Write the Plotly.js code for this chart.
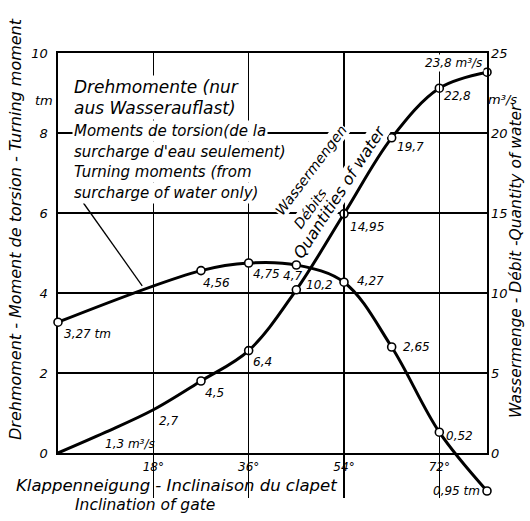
<!DOCTYPE html>
<html><head><meta charset="utf-8">
<script src="https://cdn.plot.ly/plotly-3.0.1.min.js"></script>
<style>html,body{margin:0;padding:0;background:#fff}</style>
</head><body><div id="chart" style="width:530px;height:521px"></div>
<script>
// ---- data ----
const angles = [0, 27, 36, 45, 54, 63, 72, 81];
const moments = [3.27, 4.56, 4.75, 4.7, 4.27, 2.65, 0.52, -0.95];
const momentLabels = ["3,27 tm", "4,56", "4,75", "4,7", "4,27", "2,65", "0,52", "0,95 tm"];
const flowAngles = [0, 9, 18, 27, 36, 45, 54, 63, 72, 81];
const flows = [0, 1.3, 2.7, 4.5, 6.4, 10.2, 14.95, 19.7, 22.8, 23.8];
const flowLabels = ["", "1,3 m³/s", "2,7", "4,5", "6,4", "10,2", "14,95", "19,7", "22,8", "23,8 m³/s"];
const flowMarked = [27, 36, 45, 54, 63, 72, 81];
const xTicks = [18, 36, 54, 72];
const leftTicks = [0, 2, 4, 6, 8, 10];
const rightTicks = [0, 5, 10, 15, 20, 25];

// ---- style / placement ----
const FAM = "DejaVu Sans, Liberation Sans, sans-serif";
const f = (size, extra) => Object.assign({family: FAM, size: size, color: '#000', style: 'italic'}, extra || {});
const momentLabelPos = [
  {xanchor:'left', xshift:4, yshift:-12},
  {xanchor:'left', xshift:0, yshift:-12},
  {xanchor:'left', xshift:2, yshift:-11},
  {xanchor:'center', xshift:-4, yshift:-11},
  {xanchor:'left', xshift:11, yshift:1},
  {xanchor:'left', xshift:9, yshift:0},
  {xanchor:'left', xshift:5, yshift:-4},
  {xanchor:'right', xshift:-5, yshift:0}
];
const flowLabelPos = [
  null,
  {xanchor:'left', xshift:-3, yshift:-12},
  {xanchor:'left', xshift:4, yshift:-11},
  {xanchor:'left', xshift:2, yshift:-12},
  {xanchor:'left', xshift:2, yshift:-11},
  {xanchor:'left', xshift:8, yshift:5},
  {xanchor:'left', xshift:4, yshift:-13},
  {xanchor:'left', xshift:3, yshift:-9},
  {xanchor:'left', xshift:3, yshift:-8},
  {xanchor:'right', xshift:-3, yshift:9, bgcolor:'#fff'}
];

// plot-area geometry in pixels (for free text placement)
const L = 58, R = 487, T = 53, B = 498;
const px = x => (x - L) / (R - L);
const py = y => (B - y) / (B - T);

const markerStyle = {symbol:'circle', size:8, color:'#fff', line:{color:'#000', width:1.6}};

const traces = [
  {x: flowAngles, y: flows, xaxis:'x', yaxis:'y2', mode:'lines', line:{color:'#000', width:3, shape:'spline', smoothing:1}, cliponaxis:false, hoverinfo:'skip'},
  {x: flowMarked, y: flowMarked.map(a => flows[flowAngles.indexOf(a)]), xaxis:'x', yaxis:'y2', mode:'markers', marker: markerStyle, cliponaxis:false},
  {x: angles, y: moments, xaxis:'x', yaxis:'y3', mode:'lines+markers', line:{color:'#000', width:3, shape:'spline', smoothing:1}, marker: markerStyle, cliponaxis:false}
];

const ann = [];
momentLabels.forEach((t, i) => {
  ann.push(Object.assign({x: angles[i], y: moments[i], xref:'x', yref:'y3', text:t, showarrow:false, yanchor:'middle', font:f(12)}, momentLabelPos[i]));
});
flowLabels.forEach((t, i) => {
  if (!t) return;
  ann.push(Object.assign({x: flowAngles[i], y: flows[i], xref:'x', yref:'y2', text:t, showarrow:false, yanchor:'middle', font:f(12), borderpad:1}, flowLabelPos[i]));
});

function txt(text, x, y, size, opts) {
  ann.push(Object.assign({xref:'paper', yref:'paper', x:px(x), y:py(y), text:text, showarrow:false, font:f(size), xanchor:'center', yanchor:'middle'}, opts || {}));
}
const lineBox = {xanchor:'left', bgcolor:'#fff', borderpad:1};
txt("Drehmomente (nur", 72, 87, 17, lineBox);
txt("aus Wasserauflast)", 72, 108, 17, lineBox);
txt("Moments de torsion(de la", 72, 131, 15, lineBox);
txt("surcharge d'eau seulement)", 72, 152, 15, lineBox);
txt("Turning moments (from", 72, 172, 15, lineBox);
txt("surcharge of water only)", 72, 193, 15, lineBox);

txt("Wassermengen", 311, 170, 14, {textangle:-53, bgcolor:'#fff', borderpad:0});
txt("Débits", 310, 209, 14, {textangle:-54, bgcolor:'#fff', borderpad:0});
txt("Quantities of water", 339, 192, 16, {textangle:-57, bgcolor:'#fff', borderpad:0});

txt("Drehmoment - Moment de torsion - Turning moment", 16, 229, 16, {textangle:-90});
txt("Wassermenge - Débit -Quantity of water", 516, 261, 15.5, {textangle:-90});
txt("Klappenneigung - Inclinaison du clapet", 176, 485, 16.5);
txt("Inclination of gate", 145, 505, 15.5);
txt("tm", 44, 100, 13);
txt("m³/s", 502, 99, 13);

const layout = {
  width: 530, height: 521,
  margin: {l: L, r: 530 - R, t: T, b: 521 - B},
  paper_bgcolor: '#fff', plot_bgcolor: 'rgba(0,0,0,0)',
  showlegend: false,
  xaxis: {range:[0, 81], domain:[0,1], anchor:'y', tickvals:xTicks, ticktext:xTicks.map(v => v + '°'),
    showgrid:true, gridcolor:'#000', gridwidth:1.4, zeroline:false, showline:true, linecolor:'#000', linewidth:1.6,
    mirror:true, ticks:'', ticklabelstandoff:2, tickfont:f(12), fixedrange:true},
  yaxis: {range:[0, 10], domain:[(B - 453) / (B - T), 1], anchor:'x', tickvals:leftTicks,
    showgrid:true, gridcolor:'#000', gridwidth:1.4, zeroline:false, showline:true, linecolor:'#000', linewidth:1.6,
    mirror:true, ticks:'', ticklabelstandoff:6, tickfont:f(13), fixedrange:true},
  yaxis2: {range:[0, 25], overlaying:'y', side:'right', anchor:'x', tickvals:rightTicks,
    showgrid:false, zeroline:false, showline:false, ticks:'', ticklabelstandoff:3, tickfont:f(13), fixedrange:true},
  yaxis3: {range:[-10 * (B - 453) / (453 - T), 10], domain:[0,1], anchor:'x', visible:false, showgrid:false, zeroline:false, fixedrange:true},
  shapes: [
    {type:'line', xref:'x', yref:'y', x0:4.8, y0:6.25, x1:15.9, y1:4.18, line:{color:'#000', width:1.3}}
  ],
  annotations: ann
};

Plotly.newPlot('chart', traces, layout, {displayModeBar:false, staticPlot:true});
</script>
</body></html>
